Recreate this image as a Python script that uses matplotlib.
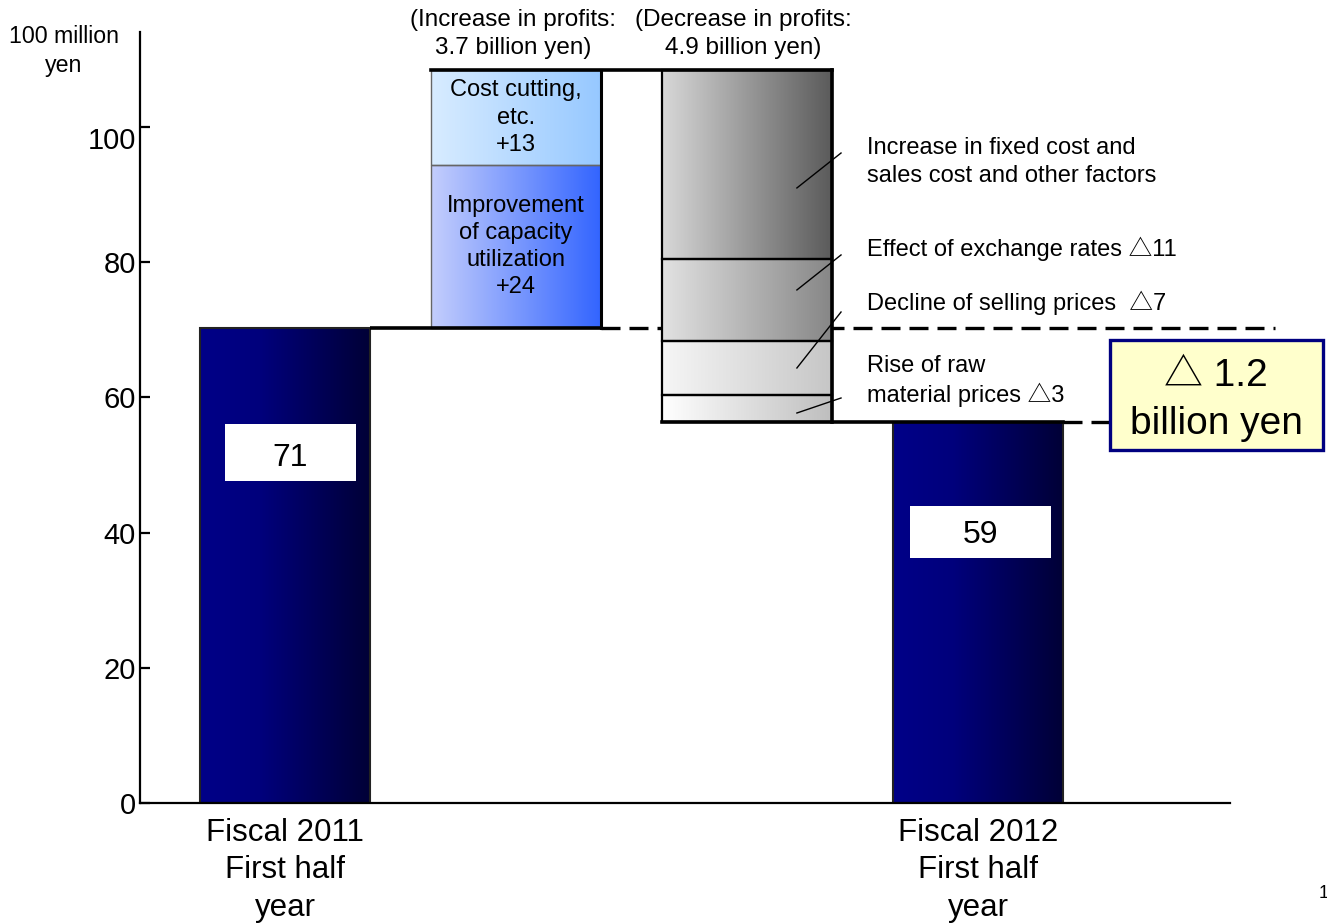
import numpy as np
import matplotlib
matplotlib.use("Agg")
import matplotlib.pyplot as plt
from matplotlib.patches import Rectangle
from matplotlib.colors import LinearSegmentedColormap
import matplotlib.transforms as mtransforms

plt.rcParams['font.family'] = ['Liberation Sans', 'Noto Sans CJK JP', 'DejaVu Sans']

# ---------------- data ----------------
categories = ["Fiscal 2011\nFirst half\nyear", "Fiscal 2012\nFirst half\nyear"]
start_value = 70.3
end_value = 56.3
value_labels = ["71", "59"]
increase_values = [24.1, 14.0]
increase_labels = ["Improvement\nof capacity\nutilization\n+24", "Cost cutting,\netc.\n+13"]
decrease_values = [28.0, 12.1, 8.0, 4.0]
decrease_labels = ["Increase in fixed cost and\nsales cost and other factors",
                   "Effect of exchange rates \u25b311",
                   "Decline of selling prices  \u25b37",
                   "Rise of raw\nmaterial prices \u25b33"]
increase_title = "(Increase in profits:\n3.7 billion yen)"
decrease_title = "(Decrease in profits:\n4.9 billion yen)"
diff_label = "\u25b3 1.2\nbillion yen"
yticks = [0, 20, 40, 60, 80, 100]
unit_label = "100 million\nyen"

# ---------------- styles ----------------
W = 0.736
xpos = [0, 1, 2, 3]
navy = [(0, '#000088'), (0.35, '#00007c'), (1, '#000036')]
inc_grad = [['#c4cefc', '#3264ff'], ['#d8ecff', '#96c8ff']]
dec_grad = [['#d8d8d8', '#5a5a5a'], ['#e2e2e2', '#868686'],
            ['#f6f6f6', '#c6c6c6'], ['#ffffff', '#bebebe']]

fig = plt.figure(figsize=(13.27, 9.24), dpi=100)
ax = fig.add_axes([140/1327, 1-803/924, (1230-140)/1327, (803-32)/924])


def grad_fill(patch, stops, z=2):
    cmap = LinearSegmentedColormap.from_list('g', stops)
    x0, y0 = patch.get_x(), patch.get_y()
    w, h = patch.get_width(), patch.get_height()
    img = ax.imshow(np.linspace(0, 1, 256).reshape(1, -1), cmap=cmap, aspect='auto',
                    extent=(x0, x0 + w, y0, y0 + h), zorder=z, interpolation='bilinear')
    img.set_clip_path(patch)


# start / end bars
ends = ax.bar([xpos[0], xpos[3]], [start_value, end_value], width=W,
              facecolor='none', edgecolor='#222222', linewidth=1.5, zorder=3)
for p in ends:
    grad_fill(p, navy)

# increase bars (stacked)
bottom = start_value
inc_bars = []
for v, g in zip(increase_values, inc_grad):
    b = ax.bar(xpos[1], v, bottom=bottom, width=W, facecolor='none',
               edgecolor='#666666', linewidth=1.0, zorder=3)[0]
    grad_fill(b, g)
    inc_bars.append(b)
    bottom += v
top_value = bottom

# decrease bars (stacked downward)
level = top_value
dec_bars = []
for v, g in zip(decrease_values, dec_grad):
    b = ax.bar(xpos[2], v, bottom=level - v, width=W, facecolor='none',
               edgecolor='black', linewidth=1.6, zorder=3)[0]
    grad_fill(b, g)
    dec_bars.append(b)
    level -= v

# labels in increase bars
for b, lab in zip(inc_bars, increase_labels):
    ax.text(b.get_x() + W/2, b.get_y() + b.get_height()/2, lab, ha='center', va='center',
            fontsize=17, linespacing=1.3, zorder=5)

# value boxes
box_specs = [(-0.26, 47.63, 0.567, 8.44, 0.024, 51.1), (2.706, 36.24, 0.61, 7.69, 3.009, 39.6)]
for (bx, by, bw, bh, tx, ty), lab in zip(box_specs, value_labels):
    ax.add_patch(Rectangle((bx, by), bw, bh, facecolor='white', edgecolor='none', zorder=4))
    ax.text(tx, ty, lab, ha='center', va='center', fontsize=23, zorder=5)

# connector lines
lw_c = 2.6
ax.plot([xpos[0] + W/2, xpos[1] + W/2], [start_value, start_value], color='black', lw=lw_c, zorder=4,
        solid_capstyle='butt')
ax.plot([xpos[1] - W/2, xpos[2] + W/2], [top_value, top_value], color='black', lw=lw_c, zorder=4,
        solid_capstyle='projecting')
ax.plot([xpos[2] - W/2, xpos[3] + W/2], [level, level], color='black', lw=lw_c, zorder=4,
        solid_capstyle='projecting')
ax.plot([xpos[1] + W/2, xpos[1] + W/2], [start_value, top_value], color='black', lw=2.2, zorder=4)
ax.plot([xpos[2] + W/2, xpos[2] + W/2], [level, top_value], color='black', lw=2.6, zorder=4)
# dashed reference lines
ax.plot([xpos[1] + W/2, 4.286], [start_value, start_value], color='black', lw=2.4,
        linestyle=(0, (5.7, 2.7)), zorder=1.5, clip_on=False)
ax.plot([xpos[3] + W/2, 3.62], [level, level], color='black', lw=2.4,
        linestyle=(0, (5.7, 2.7)), zorder=1.5, clip_on=False)

# leader lines and right-hand labels
leader_y = [(90.98, 96.15), (75.89, 81.07), (64.35, 72.63), (57.69, 59.91)]
label_y = [94.8, 82.0, 74.0, 62.4]
for (y1, y2), ly, lab in zip(leader_y, label_y, decrease_labels):
    ax.plot([2.216, 2.407], [y1, y2], color='black', lw=1.0, zorder=5, clip_on=False)
    ax.text(2.52, ly, lab, ha='left', va='center', fontsize=17, linespacing=1.32, zorder=5)

# axes styling
ax.set_xlim(-0.628, 4.091)
ax.set_ylim(0, 114.05)
for s in ['top', 'right']:
    ax.spines[s].set_visible(False)
for s in ['left', 'bottom']:
    ax.spines[s].set_linewidth(1.6)
    ax.spines[s].set_zorder(6)
ax.set_yticks(yticks)
ax.set_yticklabels([str(t) for t in yticks])
ax.tick_params(axis='y', direction='in', length=7, width=1.6, labelsize=21, pad=3)
ax.set_xticks([])
lab100 = ax.get_yticklabels()[-1]
lab100.set_transform(lab100.get_transform() +
                     mtransforms.ScaledTranslation(0, -11/100, fig.dpi_scale_trans))

trans = mtransforms.blended_transform_factory(ax.transData, ax.transAxes)
for xp, cat in zip([xpos[0], xpos[3]], categories):
    ax.text(xp, -0.0195, cat, transform=trans, ha='center', va='top', fontsize=22.5,
            linespacing=1.32)

# figure texts
fig.text(64/1327, 1-51/924, unit_label, ha='center', va='center', fontsize=16.7, linespacing=1.28)
fig.text(513/1327, 1-34/924, increase_title, ha='center', va='center', fontsize=17.5, linespacing=1.36)
fig.text(743/1327, 1-34/924, decrease_title, ha='center', va='center', fontsize=17.5, linespacing=1.36)

fig.add_artist(Rectangle((1110/1327, 1-450/924), 213/1327, 110/924, transform=fig.transFigure,
                         facecolor='#ffffcc', edgecolor='#000080', linewidth=2.4, zorder=3))
fig.text(1216/1327, 1-400/924, diff_label, ha='center', va='center', fontsize=28,
         linespacing=1.4, zorder=4)
fig.text(1319/1327, 1-893/924, "1", ha='left', va='center', fontsize=13)

fig.savefig("out.png", dpi=100)
